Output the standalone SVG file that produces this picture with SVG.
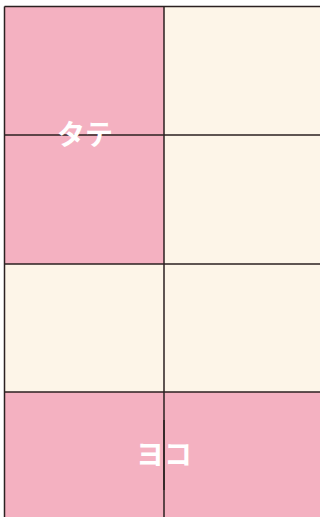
<svg xmlns="http://www.w3.org/2000/svg" width="320" height="517" viewBox="0 0 320 517">
<style>
.pink{fill:#f4b1c1}
.cream{fill:#fdf5e8}
.grid{stroke:#2b2121;stroke-width:1.5;fill:none}
.lbl{font-family:"Noto Sans CJK JP","Noto Sans",sans-serif;font-weight:bold;font-size:28px;fill:#ffffff;text-anchor:middle;dominant-baseline:central}
</style>
<rect width="320" height="517" fill="#ffffff"/>
<g id="cells">
<rect class="pink" x="4.5" y="6.5" width="159.5" height="257.5"/>
<rect class="cream" x="164" y="6.5" width="160" height="257.5"/>
<rect class="cream" x="4.5" y="264" width="320" height="128"/>
<rect class="pink" x="4.5" y="392" width="320" height="130"/>
</g>
<g id="connectors">
<path class="grid" d="M4.5 6.5V520M164 6.5V520M4.5 6.5H320M4.5 135H320M4.5 264H320M4.5 392H320"/>
</g>
<g id="tate"><text class="lbl" x="85" y="133">タテ</text></g>
<g id="yoko"><text class="lbl" x="164" y="453">ヨコ</text></g>
<path class="grid" d="M164 420V490"/>
</svg>
